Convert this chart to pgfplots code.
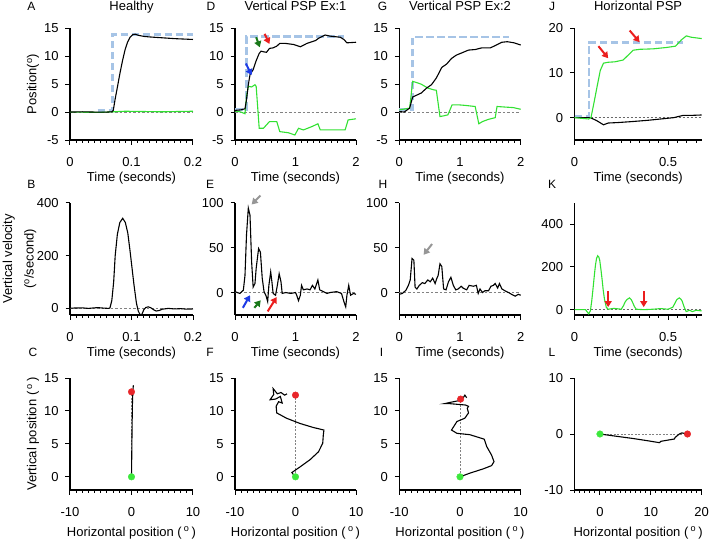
\documentclass[border=0pt]{standalone}
\usepackage{fontspec}
\setmainfont{Liberation Sans}
\usepackage{pgfplots}
\pgfplotsset{compat=1.18}
\usetikzlibrary{arrows.meta}

\definecolor{tgt}{RGB}{166,196,230}
\definecolor{grn}{RGB}{50,225,50}
\definecolor{rdot}{RGB}{232,38,42}
\definecolor{gdot}{RGB}{60,232,60}
\definecolor{abl}{RGB}{30,60,230}
\definecolor{agr}{RGB}{25,120,25}
\definecolor{ard}{RGB}{235,30,30}
\definecolor{agy}{RGB}{150,150,150}
\definecolor{zl}{RGB}{130,130,130}

\newcommand{\fs}{\fontsize{13}{15.6}\selectfont}

\pgfplotsset{
 panel/.style={
  scale only axis, anchor=south west, clip=false,
  axis x line*=bottom, axis y line*=left,
  axis line style={line width=1.2pt, black},
  tick align=outside,
  major tick length=4.5pt, minor tick length=2.5pt,
  tick style={black, line width=1pt},
  tick label style={font=\fs},
  /pgf/number format/assume math mode=true,
  scaled ticks=false,
  xticklabel style={anchor=base, inner sep=0pt, yshift=-22pt},
  yticklabel style={anchor=east, inner sep=0pt, xshift=-6.7pt},
  label style={font=\fs},
  title style={font=\fs, at={(axis description cs:0.5,1)}, anchor=base, yshift=11.6pt},
  xlabel style={at={(axis description cs:0.5,0)}, anchor=base, yshift=-41.6pt},
  ylabel style={at={([xshift=-37pt]axis description cs:0,0.5)}, anchor=center},
 },
 blk/.style={black, line width=1.1pt, no marks},
 grl/.style={grn, line width=1.1pt, no marks},
 tg/.style={tgt, line width=2.5pt, dash pattern=on 7.5pt off 3.5pt, no marks},
 zero/.style={zl, line width=0.6pt, dash pattern=on 2.5pt off 2pt, no marks},
 dot/.style={only marks, mark=*, mark size=3.3pt},
}
\tikzset{arr/.style={line width=2pt, -{Triangle[length=6pt,width=7pt]}}}

\begin{document}
\begin{tikzpicture}
\path[use as bounding box] (0,0) rectangle (709pt,539pt);

% ---------------- Row 1 ----------------
\begin{axis}[panel, at={(70pt,399pt)}, width=123pt, height=111.7pt,
 xmin=0, xmax=0.2, ymin=-5, ymax=15, xtick={0,0.1,0.2}, minor xtick={0,0.01,...,0.2},
 ytick={-5,0,5,10,15}, title={Healthy}, xlabel={Time (seconds)}, ylabel={Position(\textsuperscript{o})}]
\addplot[zero] coordinates {(0,0) (0.2,0)};
\addplot[tg] coordinates {(0.045,0.3) (0.069,0.3) (0.069,13.9) (0.2,13.9)};
\addplot[grl] coordinates {(0,0) (0.05,-0.05) (0.07,0.05) (0.09,0.15) (0.12,0.1) (0.15,0.05) (0.2,0.15)};
\addplot[blk] coordinates {(0,0) (0.02,0.05) (0.04,0) (0.06,0) (0.068,0.05) (0.0704,0.3) (0.0732,2.2) (0.0773,4.6) (0.0813,7.0) (0.0854,9.2) (0.0894,11.1) (0.0935,12.5) (0.0976,13.4) (0.102,13.85) (0.106,13.95) (0.111,13.75) (0.12,13.55) (0.13,13.45) (0.15,13.3) (0.17,13.15) (0.19,13.05) (0.2,13.0)};
\end{axis}

\begin{axis}[panel, at={(235pt,399pt)}, width=121pt, height=111.7pt,
 xmin=0, xmax=2, ymin=-5, ymax=15, xtick={0,1,2}, minor xtick={0,0.1,...,2},
 ytick={-5,0,5,10,15}, title={Vertical PSP Ex:1}, xlabel={Time (seconds)}]
\addplot[zero] coordinates {(0,0) (2,0)};
\addplot[tg] coordinates {(0,0.5) (0.19,0.5) (0.19,13.5) (1.8,13.5)};
\addplot[grl] coordinates {(0,0.2) (0.1,0) (0.165,-0.3) (0.19,2.8) (0.22,4.6) (0.275,4.5) (0.33,4.9) (0.35,4.6) (0.40,-2.9) (0.47,-2.9) (0.52,-2.3) (0.57,-1.7) (0.69,-1.7) (0.74,-3.5) (0.88,-3.7) (0.99,-4.1) (1.05,-2.9) (1.13,-3.2) (1.27,-2.6) (1.37,-2.1) (1.41,-3.2) (1.57,-3.2) (1.82,-3.2) (1.87,-1.4) (2.0,-1.2)};
\addplot[blk] coordinates {(0,0.3) (0.1,0.4) (0.165,0.6) (0.19,2.2) (0.22,4.9) (0.248,6.7) (0.3,7.6) (0.35,9.2) (0.40,10.5) (0.43,10.9) (0.47,10.8) (0.52,10.7) (0.57,11.4) (0.63,11.5) (0.69,11.8) (0.74,12.3) (0.83,12.3) (0.97,12.1) (1.08,11.7) (1.19,12.3) (1.33,12.8) (1.38,13.2) (1.49,13.8) (1.57,13.6) (1.74,13.4) (1.8,13.0) (1.85,12.4) (2.0,12.5)};
\draw[arr, abl] (0.18,8.7) -- (0.275,6.6);
\draw[arr, agr] (0.35,13.4) -- (0.41,11.6);
\draw[arr, ard] (0.49,14.0) -- (0.57,12.2);
\end{axis}

\begin{axis}[panel, at={(399.3pt,399pt)}, width=121.4pt, height=111.7pt,
 xmin=0, xmax=2, ymin=-5, ymax=15, xtick={0,1,2}, minor xtick={0,0.1,...,2},
 ytick={-5,0,5,10,15}, title={Vertical PSP Ex:2}, xlabel={Time (seconds)}]
\addplot[zero] coordinates {(0,0) (2,0)};
\addplot[tg] coordinates {(0,0.5) (0.215,0.5) (0.215,13.4) (1.8,13.4)};
\addplot[grl] coordinates {(0,0.4) (0.17,0.7) (0.22,5.5) (0.28,5.3) (0.36,5.0) (0.47,4.3) (0.56,4.0) (0.61,3.9) (0.67,-0.8) (0.72,-0.7) (0.80,-0.5) (0.87,1.3) (0.97,1.3) (1.08,1.2) (1.25,1.0) (1.31,-2.1) (1.37,-1.7) (1.47,-1.3) (1.58,-1.0) (1.61,1.0) (1.74,0.9) (1.88,0.8) (2.0,0.5)};
\addplot[blk] coordinates {(0,0.1) (0.08,0) (0.17,0.7) (0.22,2.7) (0.28,3.0) (0.36,3.4) (0.45,4.3) (0.53,4.9) (0.61,6.1) (0.70,8.0) (0.78,8.6) (0.86,9.6) (0.94,10.2) (1.03,10.6) (1.14,11.1) (1.25,11.2) (1.36,11.5) (1.50,11.5) (1.58,11.9) (1.69,12.5) (1.78,12.6) (1.89,12.4) (2.0,12.0)};
\end{axis}

\begin{axis}[panel, at={(574.5pt,399pt)}, width=127.2pt, height=111.7pt,
 xmin=0, xmax=0.68, ymin=-5, ymax=20, xtick={0,0.5}, minor xtick={0,0.05,...,0.65},
 ytick={0,10,20}, title={Horizontal PSP}, xlabel={Time (seconds)}]
\addplot[zl!80!black, line width=0.9pt, dash pattern=on 2pt off 2pt, no marks] coordinates {(0,0) (0.68,0)};
\addplot[tg] coordinates {(0,0.3) (0.077,0.3) (0.077,16.8) (0.58,16.8)};
\addplot[blk] coordinates {(0,0) (0.085,0) (0.12,-0.7) (0.155,-1.6) (0.18,-1.2) (0.23,-1.1) (0.30,-0.9) (0.39,-0.6) (0.46,-0.3) (0.53,0) (0.58,0.5) (0.62,0.5) (0.68,0.6)};
\addplot[grl] coordinates {(0,0) (0.076,-0.3) (0.088,0) (0.103,3.1) (0.12,6.8) (0.138,10.6) (0.155,12.2) (0.18,12.4) (0.216,12.5) (0.26,12.9) (0.287,14.0) (0.314,15.1) (0.35,15.3) (0.42,15.4) (0.49,15.7) (0.54,16.0) (0.571,17.4) (0.598,18.3) (0.624,18.0) (0.68,17.7)};
\draw[arr, ard] (0.128,16.0) -- (0.18,13.3);
\draw[arr, ard] (0.295,19.5) -- (0.348,16.9);
\end{axis}

% ---------------- Row 2 ----------------
\begin{axis}[panel, at={(70pt,224pt)}, width=123pt, height=112.3pt,
 xmin=0, xmax=0.2, ymin=-25, ymax=400, xtick={0,0.1,0.2}, minor xtick={0,0.01,...,0.2},
 ytick={0,200,400}, xlabel={Time (seconds)},
 ylabel={Vertical velocity\\[6pt](\textsuperscript{o}/second)},
 ylabel style={at={([xshift=-50.5pt]axis description cs:0,0.5)}, align=center}]
\addplot[zero] coordinates {(0,0) (0.2,0)};
\addplot[blk] coordinates {(0,1) (0.02,2) (0.03,0) (0.045,3) (0.055,1) (0.063,0) (0.065,2) (0.068,30) (0.071,100) (0.0735,200) (0.077,280) (0.081,325) (0.0857,341) (0.09,325) (0.094,285) (0.0975,220) (0.1,170) (0.104,90) (0.108,20) (0.111,-10) (0.114,-24) (0.117,-22) (0.12,-5) (0.123,3) (0.127,6) (0.131,3) (0.136,-5) (0.14,-10) (0.145,-8) (0.15,-3) (0.16,0) (0.17,-2) (0.18,-1) (0.19,-3) (0.2,-2)};
\end{axis}

\begin{axis}[panel, at={(235pt,224pt)}, width=121pt, height=112.3pt,
 xmin=0, xmax=2, ymin=-25, ymax=100, xtick={0,1,2}, minor xtick={0,0.1,...,2},
 ytick={0,50,100}, xlabel={Time (seconds)}]
\addplot[zero] coordinates {(0,0) (2,0)};
\addplot[blk] coordinates {(0,1) (0.08,-1) (0.138,2.6) (0.165,19) (0.19,64) (0.22,94) (0.248,86) (0.275,34) (0.30,6) (0.33,10) (0.35,27) (0.39,49) (0.42,45) (0.45,16) (0.48,1) (0.51,-3) (0.54,-10) (0.56,8) (0.59,23) (0.61,12) (0.63,-1) (0.67,-3) (0.70,8) (0.73,21) (0.76,12) (0.78,-1) (0.84,0) (0.92,-1) (1.0,0) (1.02,-3) (1.05,-9) (1.08,-3) (1.1,8) (1.13,3) (1.19,4) (1.24,3) (1.28,8) (1.32,4) (1.37,14) (1.40,3) (1.46,1) (1.52,-1) (1.57,0) (1.68,1) (1.76,-1) (1.80,-10) (1.83,-16) (1.85,-3) (1.88,8) (1.91,-3) (1.96,-1) (2.0,-2)};
\draw[arr, agy] (0.42,108) -- (0.275,98);
\draw[arr, abl] (0.13,-17) -- (0.248,-3);
\draw[arr, agr] (0.32,-17) -- (0.425,-8.6);
\draw[arr, ard] (0.54,-21) -- (0.69,-5);
\end{axis}

\begin{axis}[panel, at={(399.3pt,224pt)}, width=121.4pt, height=112.3pt,
 xmin=0, xmax=2, ymin=-25, ymax=100, xtick={0,1,2}, minor xtick={0,0.1,...,2},
 ytick={0,50,100}, xlabel={Time (seconds)}]
\addplot[zero] coordinates {(0,0) (2,0)};
\addplot[blk] coordinates {(0,-2) (0.05,-1) (0.11,2.6) (0.15,8) (0.18,14) (0.21,38) (0.24,36) (0.26,6) (0.29,4) (0.33,8) (0.38,11) (0.42,10) (0.47,14) (0.51,12) (0.55,16) (0.59,10) (0.62,16) (0.64,19) (0.67,32) (0.70,29) (0.73,4) (0.77,3) (0.81,12) (0.85,17) (0.89,8) (0.93,3) (0.97,4) (1.02,7) (1.05,5) (1.11,3) (1.15,8) (1.22,7) (1.27,8) (1.30,-1) (1.33,4) (1.37,0) (1.41,2) (1.47,2) (1.51,7) (1.55,8) (1.58,10) (1.62,5) (1.65,10) (1.69,4) (1.74,2) (1.80,0) (1.85,-2) (1.91,-4) (1.96,-2) (2.0,-3)};
\draw[arr, agy] (0.54,54) -- (0.40,42);
\end{axis}

\begin{axis}[panel, at={(574.5pt,224pt)}, width=127.2pt, height=112.3pt,
 xmin=0, xmax=0.68, ymin=-25, ymax=500, xtick={0,0.5}, minor xtick={0,0.05,...,0.65},
 ytick={0,200,400}, xlabel={Time (seconds)}]
\addplot[zl!80!black, line width=0.9pt, dash pattern=on 2pt off 2pt, no marks] coordinates {(0,0) (0.68,0)};
\addplot[grl] coordinates {(0,0) (0.059,0) (0.076,-20) (0.085,-5) (0.092,40) (0.099,98) (0.106,160) (0.112,208) (0.118,240) (0.124,252) (0.13,246) (0.135,230) (0.141,190) (0.147,145) (0.153,95) (0.16,50) (0.17,11) (0.18,2) (0.21,6) (0.25,2) (0.262,19) (0.27,35) (0.28,47) (0.294,55) (0.303,47) (0.31,35) (0.32,15) (0.33,2) (0.37,0) (0.42,2) (0.46,5) (0.50,2) (0.525,11) (0.537,30) (0.547,47) (0.56,55) (0.57,48) (0.576,39) (0.585,15) (0.597,-9) (0.615,-3) (0.63,-9) (0.65,-3) (0.68,-6)};
\draw[arr, ard] (0.18,85) -- (0.18,12);
\draw[arr, ard] (0.37,85) -- (0.37,12);
\end{axis}

% ---------------- Row 3 ----------------
\begin{axis}[panel, at={(70pt,49pt)}, width=123pt, height=112pt,
 xmin=-10, xmax=10, ymin=-2, ymax=15, xtick={-10,0,10}, minor xtick={-10,-9,...,10},
 ytick={0,5,10,15}, xlabel={Horizontal position (\,\textsuperscript{o}\,)}, xlabel style={yshift=-4.4pt},
 ylabel={Vertical position (\,\textsuperscript{o}\,)}]
\addplot[zl, line width=0.6pt, dash pattern=on 2pt off 1.5pt, no marks] coordinates {(0,0) (0,12.9)};
\addplot[blk] coordinates {(0,0) (0.05,4) (0.1,8) (0.15,11) (0.22,13) (0.3,13.9)};
\addplot[dot, rdot] coordinates {(0,12.9)};
\addplot[dot, gdot] coordinates {(0,0)};
\end{axis}

\begin{axis}[panel, at={(235pt,49pt)}, width=121pt, height=112pt,
 xmin=-10, xmax=10, ymin=-2, ymax=15, xtick={-10,0,10}, minor xtick={-10,-9,...,10},
 ytick={0,5,10,15}, xlabel={Horizontal position (\,\textsuperscript{o}\,)}, xlabel style={yshift=-4.4pt}]
\addplot[zl, line width=0.6pt, dash pattern=on 2pt off 1.5pt, no marks] coordinates {(0,0) (0,12.4)};
\addplot[blk] coordinates {(0,0) (-0.4,0.4) (-0.6,0.65) (0.74,1.5) (2.4,2.6) (3.8,3.8) (4.5,5.1) (4.6,6.4) (4.7,7.1) (2.9,7.5) (0.74,8.1) (-1.5,8.9) (-3.1,9.7) (-3.2,10.7) (-2.8,11.4) (-2.2,11.2) (-2.5,12.2) (-3.3,11.8) (-4.2,11.7) (-3.6,12.5) (-3.7,13.4) (-3.0,12.6) (-2.4,12.8) (-1.8,12.4) (-1.4,12.6)};
\addplot[dot, rdot] coordinates {(0,12.4)};
\addplot[dot, gdot] coordinates {(0,0)};
\end{axis}

\begin{axis}[panel, at={(399.3pt,49pt)}, width=121.4pt, height=112pt,
 xmin=-10, xmax=10, ymin=-2, ymax=15, xtick={-10,0,10}, minor xtick={-10,-9,...,10},
 ytick={0,5,10,15}, xlabel={Horizontal position (\,\textsuperscript{o}\,)}, xlabel style={yshift=-4.4pt}]
\addplot[zl, line width=0.6pt, dash pattern=on 2pt off 1.5pt, no marks] coordinates {(0,0) (0,11.8)};
\addplot[blk] coordinates {(0,0) (1.6,0.55) (3.8,1.2) (5.2,1.7) (5.6,2.3) (5.2,3.3) (4.4,4.6) (4.0,5.7) (3.7,5.8) (1.6,6.4) (-0.5,6.6) (-1.4,7.1) (-0.5,8.4) (0.8,8.9) (1.4,9.7) (1.2,10.4) (1.4,10.7) (0.9,10.9) (-1.6,11.1) (-2.6,11.1) (-1.6,11.3) (0,11.6) (0.6,12.1) (0.8,12.4) (1.1,12.0)};
\addplot[dot, rdot] coordinates {(0.1,11.8)};
\addplot[dot, gdot] coordinates {(0,0)};
\end{axis}

\begin{axis}[panel, at={(574.5pt,49pt)}, width=127.2pt, height=112pt,
 xmin=-5, xmax=20, ymin=-10, ymax=10, xtick={0,10,20}, minor xtick={-5,-4,...,20},
 ytick={-10,0,10}, xlabel={Horizontal position (\,\textsuperscript{o}\,)}, xlabel style={yshift=-4.4pt}]
\addplot[zl, line width=0.6pt, dash pattern=on 2pt off 1.5pt, no marks] coordinates {(0,0) (17.2,0)};
\addplot[blk] coordinates {(0,0) (3.2,-0.4) (6.5,-0.8) (9.7,-1.25) (11.7,-1.55) (12.0,-1.3) (14.6,-0.9) (14.8,-0.6) (15.2,-0.3) (15.6,0) (16.1,0.2) (17.2,0)};
\addplot[dot, rdot] coordinates {(17.2,0)};
\addplot[dot, gdot] coordinates {(0,0)};
\end{axis}

% panel letters
\begin{scope}[every node/.style={font=\fontsize{12}{14}\selectfont}]
\node at (31.5pt,533pt) {A};
\node at (211pt,533pt) {D};
\node at (382.5pt,533pt) {G};
\node at (552pt,533pt) {J};
\node at (31.5pt,355pt) {B};
\node at (210pt,355pt) {E};
\node at (383pt,355pt) {H};
\node at (552pt,355pt) {K};
\node at (33pt,186.5pt) {C};
\node at (210pt,186.5pt) {F};
\node at (381.5pt,186.5pt) {I};
\node at (552pt,186.5pt) {L};
\end{scope}
\end{tikzpicture}
\end{document}
